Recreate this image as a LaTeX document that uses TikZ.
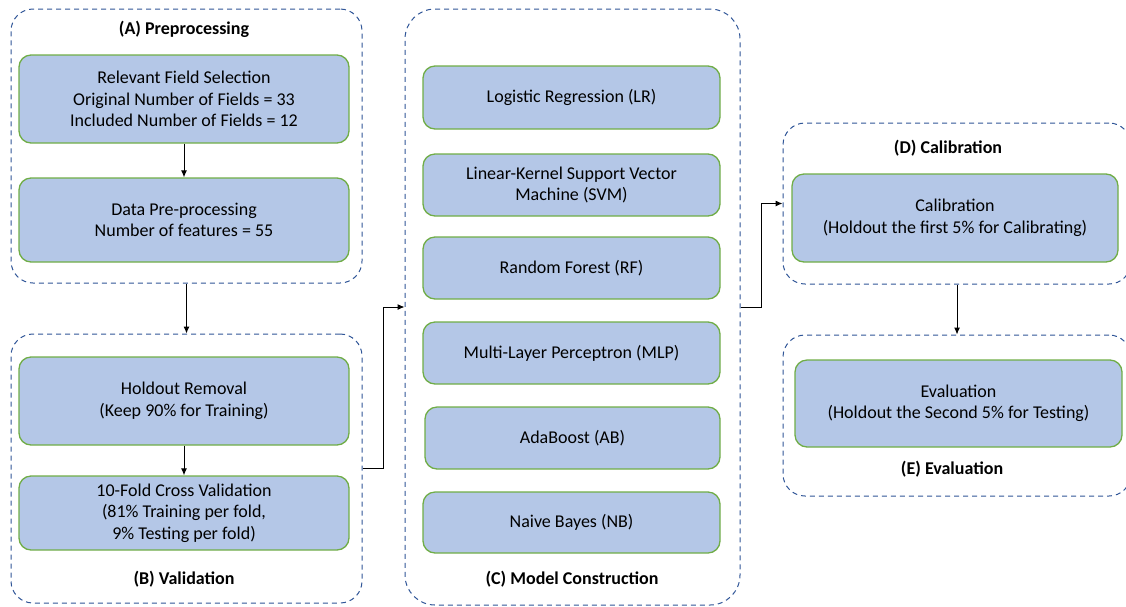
\documentclass[tikz,border=0pt]{standalone}
\usepackage{fontspec}
\setmainfont{Carlito}
\usetikzlibrary{arrows.meta}
\definecolor{boxfill}{RGB}{180,199,231}
\definecolor{boxline}{RGB}{112,173,71}
\definecolor{grpline}{RGB}{47,85,151}
\tikzset{
  inner/.style={draw=boxline, line width=1.3pt, fill=boxfill, rounded corners=12pt,
    align=center, inner sep=0pt, font=\fontsize{18}{21.5}\selectfont},
  group/.style={draw=grpline, line width=1pt, dash pattern=on 5pt off 4pt,
    rounded corners=22pt, inner sep=0pt},
  title/.style={font=\fontsize{18}{21}\selectfont\bfseries, inner sep=0pt},
  arr/.style={draw=black, line width=1pt, -{Latex[length=7pt,width=6pt]}},
}
\begin{document}
\begin{tikzpicture}[x=1pt,y=-1pt]
\useasboundingbox (0,0) rectangle (1126,606);
% groups
\node[group, minimum width=351pt, minimum height=274pt] (A) at (186.5,146) {};
\node[group, minimum width=351pt, minimum height=269pt] (B) at (186.5,468.5) {};
\node[group, minimum width=335pt, minimum height=596pt, rounded corners=30pt] (C) at (572.5,307) {};
\node[group, minimum width=348pt, minimum height=161pt] (D) at (957,203.5) {};
\node[group, minimum width=348pt, minimum height=161pt] (E) at (957,415.5) {};
% titles
\node[title] (tA) at (184,29) {(A) Preprocessing};
\node[title] (tB) at (184,579) {(B) Validation};
\node[title] (tC) at (572,579) {(C) Model Construction};
\node[title] (tD) at (948,148) {(D) Calibration};
\node[title] (tE) at (952,469) {(E) Evaluation};
% inner boxes
\node[inner, minimum width=330pt, minimum height=88pt] (a1) at (184,99)
  {Relevant Field Selection\\Original Number of Fields = 33\\Included Number of Fields = 12};
\node[inner, minimum width=330pt, minimum height=84pt] (a2) at (184,220)
  {Data Pre-processing\\Number of features = 55};
\node[inner, minimum width=330pt, minimum height=88pt] (b1) at (184,401)
  {Holdout Removal\\(Keep 90\% for Training)};
\node[inner, minimum width=330pt, minimum height=74pt] (b2) at (184,513)
  {10-Fold Cross Validation\\(81\% Training per fold,\\9\% Testing per fold)};
\node[inner, minimum width=297pt, minimum height=63pt] (lr) at (571.5,97.5)
  {Logistic Regression (LR)};
\node[inner, minimum width=297pt, minimum height=62pt] (svm) at (571.5,185)
  {Linear-Kernel Support Vector\\Machine (SVM)};
\node[inner, minimum width=297pt, minimum height=62pt] (rf) at (571.5,268)
  {Random Forest (RF)};
\node[inner, minimum width=297pt, minimum height=62pt] (mlp) at (571.5,353)
  {Multi-Layer Perceptron (MLP)};
\node[inner, minimum width=295pt, minimum height=62pt] (ab) at (572.5,438)
  {AdaBoost (AB)};
\node[inner, minimum width=297pt, minimum height=61pt] (nb) at (571.5,522.5)
  {Naive Bayes (NB)};
\node[inner, minimum width=326pt, minimum height=88pt] (d1) at (955,218)
  {Calibration\\(Holdout the first 5\% for Calibrating)};
\node[inner, minimum width=327pt, minimum height=87pt] (e1) at (958.5,403.5)
  {Evaluation\\(Holdout the Second 5\% for Testing)};
% connectors
\draw[arr] (a1) -- (a2);
\draw[arr] (A) -- (B);
\draw[arr] (b1) -- (b2);
\draw[arr] (B.east) -- ++(21,0) |- (C.west);
\draw[arr] (C.east) -- ++(21,0) |- (D.west);
\draw[arr] (D) -- (E);
\end{tikzpicture}
\end{document}
